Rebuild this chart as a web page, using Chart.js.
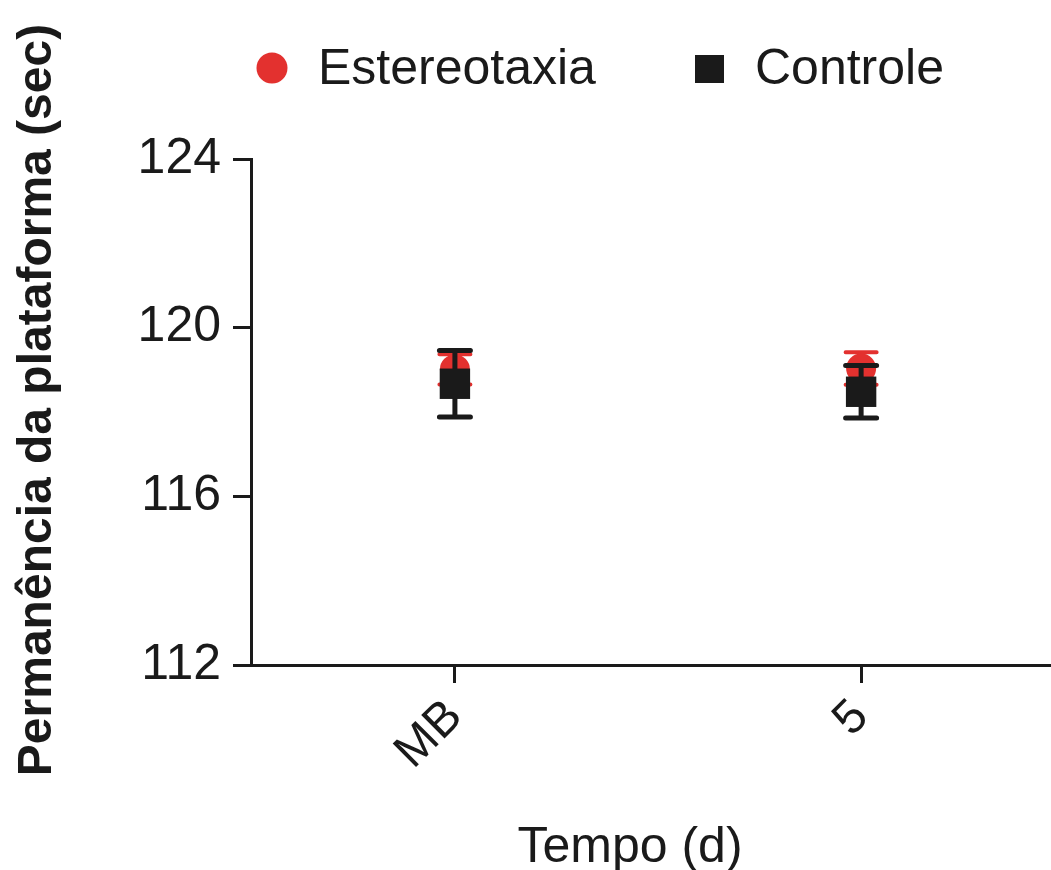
<!DOCTYPE html>
<html>
<head>
<meta charset="utf-8">
<script src="https://cdn.jsdelivr.net/npm/chart.js@4"></script>
<style>
  html, body { margin: 0; padding: 0; background: #fff; }
  #wrap { width: 1051px; height: 870px; }
</style>
</head>
<body>
<div id="wrap"><canvas id="chart" width="1051" height="870"></canvas></div>
<script>
// datos
const categories = ["MB", "5"];
const estMean = [119.01, 119.03];
const estErr = [0.36, 0.385];
const ctrlMean = [118.67, 118.48];
const ctrlErr = [0.79, 0.62];
const yTicks = [112, 116, 120, 124];

const xTitle = "Tempo (d)";
const yTitle = "Permanência da plataforma (sec)";

const RED = "#e3312f";
const BLACK = "#1a1a1a";
const FONT = "'Liberation Sans', Arial, sans-serif";

// barras de error, dibujadas antes de los puntos de cada serie
const errorBars = {
  id: "errorBars",
  beforeDatasetDraw(chart, args) {
    const ds = chart.data.datasets[args.index];
    const ctx = chart.ctx;
    const xs = chart.scales.x, ys = chart.scales.y;
    ctx.save();
    ctx.strokeStyle = ds.borderColor;
    ctx.lineWidth = ds.errWidth;
    ctx.lineCap = "round";
    ds.data.forEach((p, i) => {
      const x = xs.getPixelForValue(p.x);
      const top = ys.getPixelForValue(p.y + ds.err[i]);
      const bot = ys.getPixelForValue(p.y - ds.err[i]);
      ctx.beginPath();
      ctx.moveTo(x, top); ctx.lineTo(x, bot);
      ctx.moveTo(x - 15.5, top); ctx.lineTo(x + 15.5, top);
      ctx.moveTo(x - 15.5, bot); ctx.lineTo(x + 15.5, bot);
      ctx.stroke();
    });
    ctx.restore();
  }
};

// leyenda arriba + títulos de ejes
const extras = {
  id: "extras",
  afterDraw(chart) {
    const ctx = chart.ctx;
    ctx.save();
    ctx.font = "50px " + FONT;
    ctx.textBaseline = "alphabetic";
    ctx.fillStyle = RED;
    ctx.beginPath();
    ctx.arc(272, 68, 15.5, 0, Math.PI * 2);
    ctx.fill();
    ctx.fillStyle = BLACK;
    ctx.fillText(chart.data.datasets[0].label, 318, 84);
    ctx.fillRect(695, 55, 29, 28);
    ctx.fillText(chart.data.datasets[1].label, 755, 84);

    // título X
    ctx.textAlign = "center";
    ctx.fillText(xTitle, 630, 862);

    // título Y
    ctx.font = "bold 48px " + FONT;
    ctx.translate(51, 400);
    ctx.rotate(-Math.PI / 2);
    ctx.fillText(yTitle, 0, 0);
    ctx.restore();
  }
};

const ctx = document.getElementById("chart").getContext("2d");
new Chart(ctx, {
  type: "scatter",
  data: {
    datasets: [
      {
        label: "Estereotaxia",
        data: estMean.map((v, i) => ({ x: i, y: v })),
        err: estErr,
        errWidth: 4,
        pointStyle: "circle",
        pointRadius: 15,
        backgroundColor: RED,
        borderColor: RED,
        borderWidth: 0,
        order: 2
      },
      {
        label: "Controle",
        data: ctrlMean.map((v, i) => ({ x: i, y: v })),
        err: ctrlErr,
        errWidth: 5,
        pointStyle: "rect",
        pointRadius: 21.5,
        backgroundColor: BLACK,
        borderColor: BLACK,
        borderWidth: 0,
        order: 1
      }
    ]
  },
  options: {
    responsive: false,
    animation: false,
    layout: { autoPadding: false, padding: { top: 159, right: 1, left: 0, bottom: 0 } },
    plugins: {
      legend: { display: false },
      tooltip: { enabled: false }
    },
    scales: {
      x: {
        type: "linear",
        min: -0.502,
        max: 1.465,
        afterBuildTicks: s => { s.ticks = categories.map((c, i) => ({ value: i })); },
        afterFit: s => { s.height = 205; s.paddingLeft = 0; s.paddingRight = 0; },
        ticks: {
          callback: (v) => categories[v],
          maxRotation: 45,
          minRotation: 45,
          padding: 6,
          color: BLACK,
          font: { size: 48, family: FONT }
        },
        grid: { drawOnChartArea: false, drawTicks: true, tickLength: 18, color: BLACK, lineWidth: 3 },
        border: { color: BLACK, width: 3 }
      },
      y: {
        min: 112,
        max: 124,
        afterBuildTicks: s => { s.ticks = yTicks.map(v => ({ value: v })); },
        afterFit: s => { s.width = 251; s.paddingTop = 0; s.paddingBottom = 0; },
        ticks: {
          padding: 12,
          color: BLACK,
          font: { size: 50, family: FONT }
        },
        grid: { drawOnChartArea: false, drawTicks: true, tickLength: 18, color: BLACK, lineWidth: 3 },
        border: { color: BLACK, width: 3 }
      }
    }
  },
  plugins: [errorBars, extras]
});
</script>
</body>
</html>
